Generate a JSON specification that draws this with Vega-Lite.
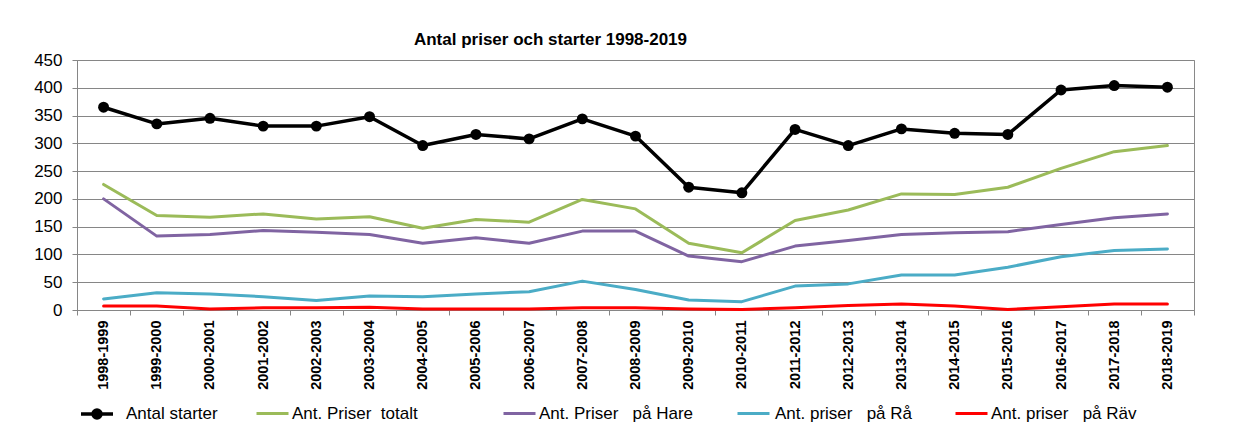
{
  "$schema": "https://vega.github.io/schema/vega-lite/v6.json",
  "autosize": {"type": "none"},
  "width": 1117,
  "height": 250,
  "padding": {"left": 77, "top": 60, "right": 41, "bottom": 120},
  "background": "white",
  "config": {
    "font": "Liberation Sans",
    "view": {"stroke": "#898989", "strokeWidth": 1}
  },
  "title": {
    "text": "Antal priser och starter 1998-2019",
    "font": "Liberation Sans",
    "fontSize": 17,
    "fontWeight": "bold",
    "color": "#000000",
    "anchor": "middle",
    "frame": "group",
    "dx": -85,
    "baseline": "alphabetic",
    "offset": -11
  },
  "data": {
    "values": [
      {"s": "1998-1999", "starter": 365, "totalt": 226, "hare": 200, "ra": 20, "rav": 7},
      {"s": "1999-2000", "starter": 335, "totalt": 170, "hare": 133, "ra": 31, "rav": 7},
      {"s": "2000-2001", "starter": 345, "totalt": 167, "hare": 136, "ra": 29, "rav": 2},
      {"s": "2001-2002", "starter": 331, "totalt": 173, "hare": 143, "ra": 24, "rav": 4},
      {"s": "2002-2003", "starter": 331, "totalt": 164, "hare": 140, "ra": 17, "rav": 4},
      {"s": "2003-2004", "starter": 348, "totalt": 168, "hare": 136, "ra": 25, "rav": 5},
      {"s": "2004-2005", "starter": 296, "totalt": 147, "hare": 120, "ra": 24, "rav": 2},
      {"s": "2005-2006", "starter": 316, "totalt": 163, "hare": 130, "ra": 29, "rav": 2},
      {"s": "2006-2007", "starter": 308, "totalt": 158, "hare": 120, "ra": 33, "rav": 2},
      {"s": "2007-2008", "starter": 344, "totalt": 199, "hare": 142, "ra": 52, "rav": 4},
      {"s": "2008-2009", "starter": 313, "totalt": 182, "hare": 142, "ra": 37, "rav": 4},
      {"s": "2009-2010", "starter": 221, "totalt": 120, "hare": 97, "ra": 18, "rav": 2},
      {"s": "2010-2011", "starter": 211, "totalt": 103, "hare": 87, "ra": 15, "rav": 1},
      {"s": "2011-2012", "starter": 325, "totalt": 161, "hare": 115, "ra": 43, "rav": 4},
      {"s": "2012-2013", "starter": 296, "totalt": 180, "hare": 125, "ra": 47, "rav": 8},
      {"s": "2013-2014", "starter": 326, "totalt": 209, "hare": 136, "ra": 63, "rav": 11},
      {"s": "2014-2015", "starter": 318, "totalt": 208, "hare": 139, "ra": 63, "rav": 7},
      {"s": "2015-2016", "starter": 316, "totalt": 221, "hare": 141, "ra": 77, "rav": 1},
      {"s": "2016-2017", "starter": 396, "totalt": 255, "hare": 154, "ra": 96, "rav": 6},
      {"s": "2017-2018", "starter": 404, "totalt": 285, "hare": 166, "ra": 107, "rav": 11},
      {"s": "2018-2019", "starter": 401, "totalt": 296, "hare": 173, "ra": 110, "rav": 11}
    ]
  },
  "encoding": {
    "x": {
      "field": "s",
      "type": "nominal",
      "sort": null,
      "scale": {"type": "band", "paddingInner": 0, "paddingOuter": 0},
      "axis": {
        "title": null,
        "labelAngle": -90,
        "labelFont": "Liberation Sans",
        "labelFontSize": 14.5,
        "labelFontWeight": "bold",
        "labelColor": "#000000",
        "labelPadding": 5,
        "labelOverlap": false,
        "tickBand": "extent",
        "tickSize": 5,
        "tickColor": "#868686",
        "domainColor": "#868686",
        "grid": false
      }
    },
    "y": {
      "field": "value",
      "type": "quantitative",
      "scale": {"domain": [0, 450], "nice": false},
      "axis": {
        "title": null,
        "values": [0, 50, 100, 150, 200, 250, 300, 350, 400, 450],
        "labelFont": "Liberation Sans",
        "labelFontSize": 17,
        "labelColor": "#000000",
        "labelPadding": 10,
        "tickSize": 5,
        "tickColor": "#868686",
        "domainColor": "#868686",
        "grid": true,
        "gridColor": "#868686",
        "gridWidth": 1
      }
    }
  },
  "layer": [
    {
      "transform": [{"fold": ["starter"]}],
      "mark": {"type": "line", "strokeWidth": 3.5, "strokeJoin": "round", "strokeCap": "round", "point": {"filled": true, "size": 120}},
      "encoding": {
        "color": {
          "field": "key", "type": "nominal",
          "scale": {"domain": ["starter"], "range": ["#000000"]},
          "legend": {
            "orient": "none", "legendX": 2, "legendY": 336, "title": null, "padding": 0,
            "symbolType": "M-1,0L1,0M0.25,0A0.25,0.25 0 1,1 -0.25,0A0.25,0.25 0 1,1 0.25,0M0.1,0A0.1,0.1 0 1,1 -0.1,0A0.1,0.1 0 1,1 0.1,0",
            "symbolSize": 1024, "symbolStrokeWidth": 3.5, "symbolStrokeColor": "#000000", "symbolFillColor": "transparent", "symbolOpacity": 1,
            "labelExpr": "'Antal starter'", "labelFont": "Liberation Sans", "labelFontSize": 17, "labelColor": "#000000", "labelOffset": 11, "labelLimit": 400
          }
        }
      }
    },
    {
      "transform": [{"fold": ["totalt"]}],
      "mark": {"type": "line", "strokeWidth": 3, "strokeJoin": "round", "strokeCap": "round"},
      "encoding": {
        "color": {
          "field": "key", "type": "nominal",
          "scale": {"domain": ["totalt"], "range": ["#9BBB59"]},
          "legend": {
            "orient": "none", "legendX": 178, "legendY": 336, "title": null, "padding": 0,
            "symbolType": "M-1,0L1,0", "symbolSize": 1024, "symbolStrokeWidth": 3, "symbolStrokeColor": "#9BBB59",
            "labelExpr": "'Ant. Priser\u00a0 totalt'", "labelFont": "Liberation Sans", "labelFontSize": 17, "labelColor": "#000000", "labelOffset": 2, "labelLimit": 400
          }
        }
      }
    },
    {
      "transform": [{"fold": ["hare"]}],
      "mark": {"type": "line", "strokeWidth": 3, "strokeJoin": "round", "strokeCap": "round"},
      "encoding": {
        "color": {
          "field": "key", "type": "nominal",
          "scale": {"domain": ["hare"], "range": ["#8064A2"]},
          "legend": {
            "orient": "none", "legendX": 425, "legendY": 336, "title": null, "padding": 0,
            "symbolType": "M-1,0L1,0", "symbolSize": 1024, "symbolStrokeWidth": 3, "symbolStrokeColor": "#8064A2",
            "labelExpr": "'Ant. Priser \u00a0 på Hare'", "labelFont": "Liberation Sans", "labelFontSize": 17, "labelColor": "#000000", "labelOffset": 2, "labelLimit": 400
          }
        }
      }
    },
    {
      "transform": [{"fold": ["ra"]}],
      "mark": {"type": "line", "strokeWidth": 3, "strokeJoin": "round", "strokeCap": "round"},
      "encoding": {
        "color": {
          "field": "key", "type": "nominal",
          "scale": {"domain": ["ra"], "range": ["#4BACC6"]},
          "legend": {
            "orient": "none", "legendX": 659, "legendY": 336, "title": null, "padding": 0,
            "symbolType": "M-1,0L1,0", "symbolSize": 1024, "symbolStrokeWidth": 3, "symbolStrokeColor": "#4BACC6",
            "labelExpr": "'Ant. priser \u00a0 på Rå'", "labelFont": "Liberation Sans", "labelFontSize": 17, "labelColor": "#000000", "labelOffset": 4, "labelLimit": 400
          }
        }
      }
    },
    {
      "transform": [{"fold": ["rav"]}],
      "mark": {"type": "line", "strokeWidth": 3, "strokeJoin": "round", "strokeCap": "round"},
      "encoding": {
        "color": {
          "field": "key", "type": "nominal",
          "scale": {"domain": ["rav"], "range": ["#FF0000"]},
          "legend": {
            "orient": "none", "legendX": 877, "legendY": 336, "title": null, "padding": 0,
            "symbolType": "M-1,0L1,0", "symbolSize": 1024, "symbolStrokeWidth": 3, "symbolStrokeColor": "#FF0000",
            "labelExpr": "'Ant. priser \u00a0 på Räv'", "labelFont": "Liberation Sans", "labelFontSize": 17, "labelColor": "#000000", "labelOffset": 2, "labelLimit": 400
          }
        }
      }
    }
  ],
  "resolve": {"scale": {"color": "independent"}, "legend": {"color": "independent"}}
}
